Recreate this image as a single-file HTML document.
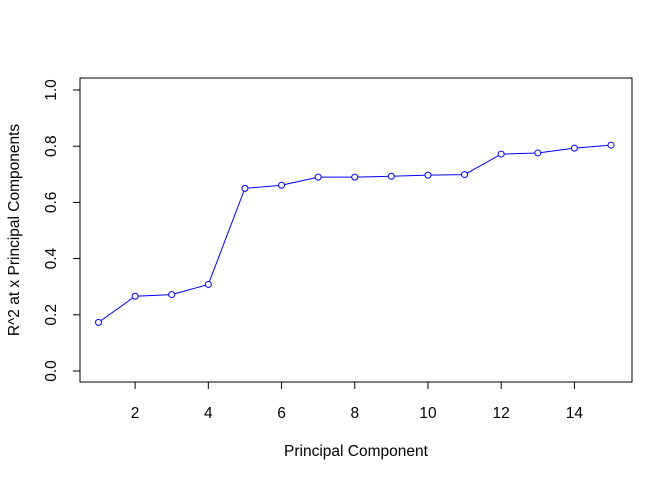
<!DOCTYPE html>
<html><head><meta charset="utf-8"><style>
html,body{margin:0;padding:0;background:#fff}
svg text{font-family:"Liberation Sans",Arial,sans-serif;font-size:15.5px;fill:#000}
</style></head><body>
<svg width="672" height="480">
<rect x="0" y="0" width="672" height="480" fill="#fff"/>
<rect x="80" y="78" width="552" height="304" fill="none" stroke="#000" stroke-width="1"/>
<g id="xaxis"></g>
<g id="yaxis"></g>
<g id="series"></g>
<text x="356" y="456" text-anchor="middle">Principal Component</text>
<text transform="translate(19,230) rotate(-90)" text-anchor="middle">R^2 at x Principal Components</text>
</svg>
<script>
const components=[1,2,3,4,5,6,7,8,9,10,11,12,13,14,15];
const r2Values=[0.173,0.266,0.272,0.308,0.65,0.661,0.69,0.69,0.693,0.697,0.699,0.772,0.776,0.793,0.804];
const xTicks=[2,4,6,8,10,12,14];
const yTicks=[0,0.2,0.4,0.6,0.8,1.0];
const yTickLabels=["0.0","0.2","0.4","0.6","0.8","1.0"];
const NS="http://www.w3.org/2000/svg";
function sx(v){return 98.5+(v-1)*(611-98.5)/14;}
function sy(v){return 371-v*281;}
function mk(tag,attrs,parent){const e=document.createElementNS(NS,tag);for(const k in attrs)e.setAttribute(k,attrs[k]);parent.appendChild(e);return e;}
const xa=document.getElementById('xaxis'),ya=document.getElementById('yaxis'),se=document.getElementById('series');
mk('line',{x1:sx(xTicks[0]),x2:sx(xTicks[xTicks.length-1]),y1:382,y2:382,stroke:'#000'},xa);
xTicks.forEach(t=>{
 const l=mk('line',{x1:sx(t),x2:sx(t),y1:382,y2:389,stroke:'#000'},xa);
 
 
 const tx=mk('text',{x:sx(t),y:418,'text-anchor':'middle'},xa);tx.textContent=t;
 
 
});
mk('line',{x1:80,x2:80,y1:sy(0),y2:sy(1),stroke:'#000'},ya);
yTicks.forEach((t,i)=>{
 const l=mk('line',{x1:73,x2:80,y1:sy(t),y2:sy(t),stroke:'#000'},ya);
 
 
 const tx=mk('text',{transform:`translate(56,${sy(t)}) rotate(-90)`,'text-anchor':'middle'},ya);tx.textContent=yTickLabels[i];
 
 
});
const pts=components.map((c,i)=>sx(c)+','+sy(r2Values[i])).join(' ');
const pl=mk('polyline',{points:pts,fill:'none',stroke:'#0000ff','stroke-width':1},se);


components.forEach((c,i)=>{
 const p=mk('circle',{cx:sx(c),cy:sy(r2Values[i]),r:3,fill:'#fff',stroke:'#0000ff','stroke-width':1},se);
 
 
});
</script>
</body></html>
